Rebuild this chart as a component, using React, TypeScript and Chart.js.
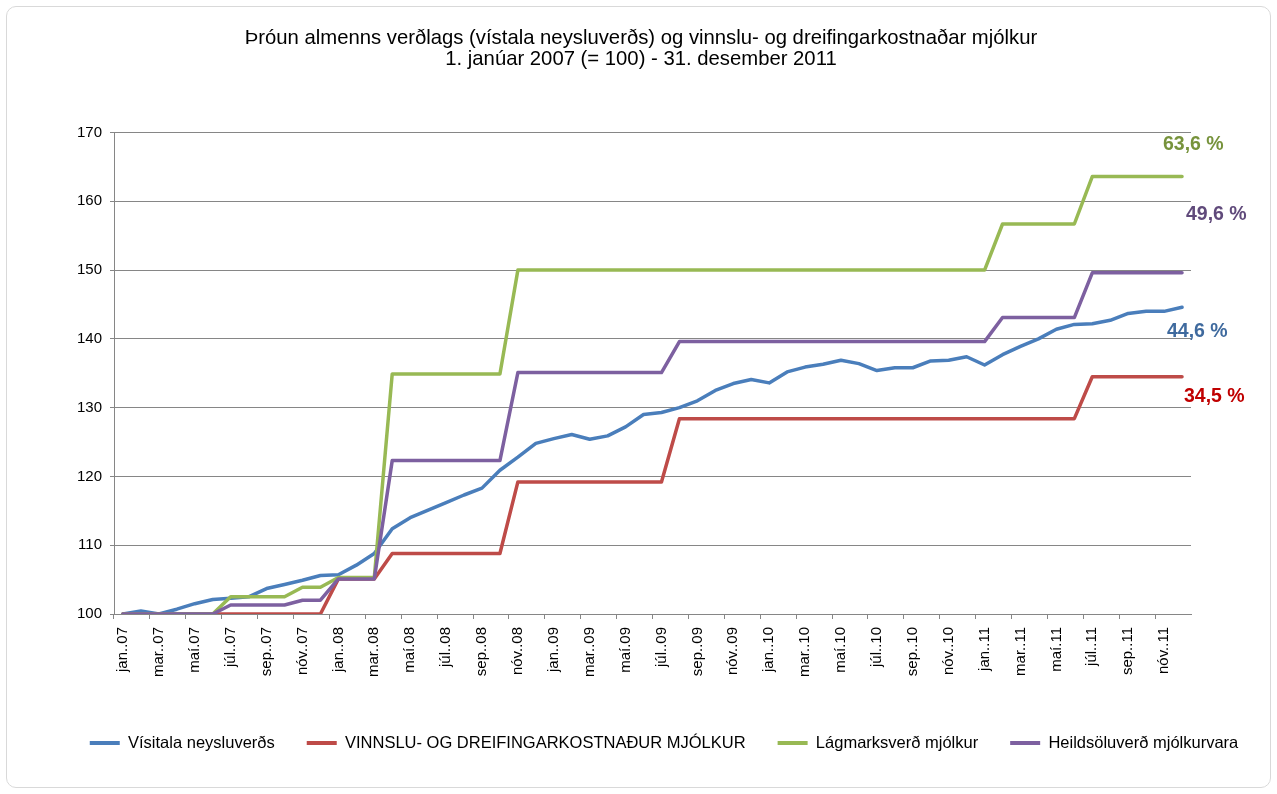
import React, { useEffect, useRef } from 'react';
import { Chart, registerables } from 'chart.js';

Chart.register(...registerables);

const FONT = '"Liberation Sans", Arial, Helvetica, sans-serif';

const TITLE_LINES = [
  'Þróun almenns verðlags (vístala neysluverðs) og vinnslu- og dreifingarkostnaðar mjólkur',
  '1. janúar 2007 (= 100) - 31. desember 2011',
];

const MONTH_LABELS = [
  'jan..07', 'feb..07', 'mar..07', 'apr..07', 'maí.07', 'jún..07', 'júl..07', 'ágú..07', 'sep..07', 'okt..07', 'nóv..07', 'des..07',
  'jan..08', 'feb..08', 'mar..08', 'apr..08', 'maí.08', 'jún..08', 'júl..08', 'ágú..08', 'sep..08', 'okt..08', 'nóv..08', 'des..08',
  'jan..09', 'feb..09', 'mar..09', 'apr..09', 'maí.09', 'jún..09', 'júl..09', 'ágú..09', 'sep..09', 'okt..09', 'nóv..09', 'des..09',
  'jan..10', 'feb..10', 'mar..10', 'apr..10', 'maí.10', 'jún..10', 'júl..10', 'ágú..10', 'sep..10', 'okt..10', 'nóv..10', 'des..10',
  'jan..11', 'feb..11', 'mar..11', 'apr..11', 'maí.11', 'jún..11', 'júl..11', 'ágú..11', 'sep..11', 'okt..11', 'nóv..11', 'des..11',
];

const SERIES_NAMES = [
  'Vísitala neysluverðs',
  'VINNSLU- OG DREIFINGARKOSTNAÐUR MJÓLKUR',
  'Lágmarksverð mjólkur',
  'Heildsöluverð mjólkurvara',
];

const CPI = [
  100.0, 100.45, 100.0, 100.7, 101.5, 102.1, 102.3, 102.5, 103.7, 104.3, 104.9, 105.6,
  105.7, 107.1, 108.8, 112.4, 114.0, 115.1, 116.2, 117.3, 118.3, 120.9, 122.8, 124.8,
  125.5, 126.1, 125.4, 125.9, 127.2, 129.0, 129.3, 130.0, 131.0, 132.5, 133.5, 134.1,
  133.6, 135.2, 135.9, 136.3, 136.9, 136.4, 135.4, 135.8, 135.8, 136.8, 136.9, 137.4,
  136.2, 137.7, 138.9, 140.0, 141.4, 142.1, 142.2, 142.7, 143.7, 144.0, 144.0, 144.6,
];

const PROCESSING_COST = [
  100.0, 100.0, 100.0, 100.0, 100.0, 100.0, 100.0, 100.0, 100.0, 100.0, 100.0, 100.0,
  105.1, 105.1, 105.1, 108.8, 108.8, 108.8, 108.8, 108.8, 108.8, 108.8, 119.2, 119.2,
  119.2, 119.2, 119.2, 119.2, 119.2, 119.2, 119.2, 128.4, 128.4, 128.4, 128.4, 128.4,
  128.4, 128.4, 128.4, 128.4, 128.4, 128.4, 128.4, 128.4, 128.4, 128.4, 128.4, 128.4,
  128.4, 128.4, 128.4, 128.4, 128.4, 128.4, 134.5, 134.5, 134.5, 134.5, 134.5, 134.5,
];

const MIN_MILK_PRICE = [
  100.0, 100.0, 100.0, 100.0, 100.0, 100.0, 102.5, 102.5, 102.5, 102.5, 103.9, 103.9,
  105.3, 105.3, 105.3, 134.9, 134.9, 134.9, 134.9, 134.9, 134.9, 134.9, 150.0, 150.0,
  150.0, 150.0, 150.0, 150.0, 150.0, 150.0, 150.0, 150.0, 150.0, 150.0, 150.0, 150.0,
  150.0, 150.0, 150.0, 150.0, 150.0, 150.0, 150.0, 150.0, 150.0, 150.0, 150.0, 150.0,
  150.0, 156.7, 156.7, 156.7, 156.7, 156.7, 163.6, 163.6, 163.6, 163.6, 163.6, 163.6,
];

const WHOLESALE_PRICE = [
  100.0, 100.0, 100.0, 100.0, 100.0, 100.0, 101.3, 101.3, 101.3, 101.3, 102.0, 102.0,
  105.1, 105.1, 105.1, 122.3, 122.3, 122.3, 122.3, 122.3, 122.3, 122.3, 135.1, 135.1,
  135.1, 135.1, 135.1, 135.1, 135.1, 135.1, 135.1, 139.6, 139.6, 139.6, 139.6, 139.6,
  139.6, 139.6, 139.6, 139.6, 139.6, 139.6, 139.6, 139.6, 139.6, 139.6, 139.6, 139.6,
  139.6, 143.1, 143.1, 143.1, 143.1, 143.1, 149.6, 149.6, 149.6, 149.6, 149.6, 149.6,
];

const Y_MIN = 100;
const Y_MAX = 170;
const Y_STEP = 10;

const LINE_COLORS = ['#4A7EBB', '#BE4B48', '#98B954', '#7D60A0'];
const END_LABEL_COLORS = ['#3F6A9E', '#C00000', '#77933C', '#604A7B'];
// position of the end-of-line percentage labels, relative to the plot area's right/top edges
const END_LABEL_LAYOUT = [
  { series: 2, dx: -28, dy: 12.5 },
  { series: 3, dx: -5, dy: 82.5 },
  { series: 0, dx: -24, dy: 199.5 },
  { series: 1, dx: -7, dy: 264.5 },
];

export default function App() {
  const canvasRef = useRef<HTMLCanvasElement | null>(null);

  useEffect(() => {
    if (!canvasRef.current) return;

    const endLabels = {
      id: 'endLabels',
      afterDatasetsDraw(chart: any) {
        const { ctx, chartArea } = chart;
        ctx.save();
        ctx.font = `bold 19.5px ${FONT}`;
        ctx.textAlign = 'left';
        ctx.textBaseline = 'middle';
        END_LABEL_LAYOUT.forEach((l) => {
          const data = chart.data.datasets[l.series].data as number[];
          const last = data[data.length - 1];
          const txt = (last - 100).toFixed(1).replace('.', ',') + ' %';
          ctx.fillStyle = END_LABEL_COLORS[l.series];
          ctx.fillText(txt, chartArea.right + l.dx, chartArea.top + l.dy);
        });
        ctx.restore();
      },
    };

    const seriesData = [CPI, PROCESSING_COST, MIN_MILK_PRICE, WHOLESALE_PRICE];
    const drawOrder = [4, 3, 2, 1];

    const chart = new Chart(canvasRef.current, {
      type: 'line',
      data: {
        labels: MONTH_LABELS,
        datasets: seriesData.map((d, i) => ({
          label: SERIES_NAMES[i],
          data: d,
          borderColor: LINE_COLORS[i],
          backgroundColor: LINE_COLORS[i],
          borderWidth: 3.5,
          pointRadius: 0,
          pointHoverRadius: 0,
          tension: 0,
          fill: false,
          borderJoinStyle: 'round' as const,
          borderCapStyle: 'round' as const,
          order: drawOrder[i],
          yAxisID: 'y',
        })),
      },
      options: {
        responsive: false,
        animation: false,
        events: [],
        layout: { padding: { top: 17.5, left: 25.5, right: -25.5, bottom: 32.75 } },
        plugins: {
          tooltip: { enabled: false },
          title: {
            display: true,
            text: TITLE_LINES,
            fullSize: false,
            stack: 'header',
            stackWeight: 0.9786,
            color: '#000',
            font: { family: FONT, size: 20.3, weight: 'normal', lineHeight: 1.035 },
            padding: { top: 10, bottom: 63 },
          },
          subtitle: {
            display: true,
            text: '',
            position: 'top',
            fullSize: false,
            stack: 'header',
            stackWeight: 0.0214,
            font: { family: FONT, size: 1, lineHeight: 1 },
            padding: 0,
          },
          legend: {
            display: true,
            position: 'bottom',
            fullSize: true,
            labels: {
              boxWidth: 30,
              boxHeight: 4,
              padding: 32,
              color: '#000',
              font: { family: FONT, size: 16.5 },
              generateLabels: (c: any) =>
                Chart.defaults.plugins.legend.labels
                  .generateLabels(c)
                  .map((l: any) => ({ ...l, fillStyle: l.strokeStyle, lineWidth: 0 }))
                  .sort((a: any, b: any) => a.datasetIndex - b.datasetIndex),
            },
          },
        },
        scales: {
          x: {
            type: 'category',
            offset: true,
            grid: {
              offset: true,
              drawOnChartArea: false,
              drawTicks: true,
              tickLength: 5,
              color: (ctx: any) => (ctx.index % 2 === 0 ? '#868686' : 'rgba(0,0,0,0)'),
            },
            border: { display: true, color: '#868686', width: 1 },
            ticks: {
              autoSkip: false,
              maxRotation: 90,
              minRotation: 90,
              padding: 8,
              color: '#000',
              font: { family: FONT, size: 15 },
              callback: (_v: any, idx: number) => (idx % 2 === 0 ? MONTH_LABELS[idx] : ''),
            },
            afterFit: (s: any) => {
              s.height = 88.75;
            },
          },
          y: {
            type: 'linear',
            position: 'left',
            min: Y_MIN,
            max: Y_MAX,
            grid: {
              color: '#868686',
              lineWidth: 1,
              drawTicks: true,
              tickLength: 4,
            },
            border: { display: true, color: '#868686', width: 1 },
            ticks: {
              stepSize: Y_STEP,
              padding: 8,
              color: '#000',
              font: { family: FONT, size: 15 },
            },
            afterFit: (s: any) => {
              s.width = 88.5;
            },
          },
          yPad: {
            type: 'linear',
            position: 'right',
            display: true,
            grid: { display: false },
            border: { display: false },
            ticks: { display: false },
            afterFit: (s: any) => {
              s.width = 111.5;
            },
          },
        },
      },
      plugins: [endLabels],
    } as any);

    return () => chart.destroy();
  }, []);

  return (
    <div style={{ position: 'fixed', left: 0, top: 0, width: 1277, height: 794, background: '#fff' }}>
      <canvas ref={canvasRef} width={1277} height={794} style={{ position: 'absolute', left: 0, top: 0 }} />
      <div
        style={{
          position: 'absolute',
          left: 6,
          top: 6,
          width: 1265,
          height: 782,
          border: '1px solid #d9d9d9',
          borderRadius: 10,
          boxSizing: 'border-box',
          pointerEvents: 'none',
        }}
      />
    </div>
  );
}
